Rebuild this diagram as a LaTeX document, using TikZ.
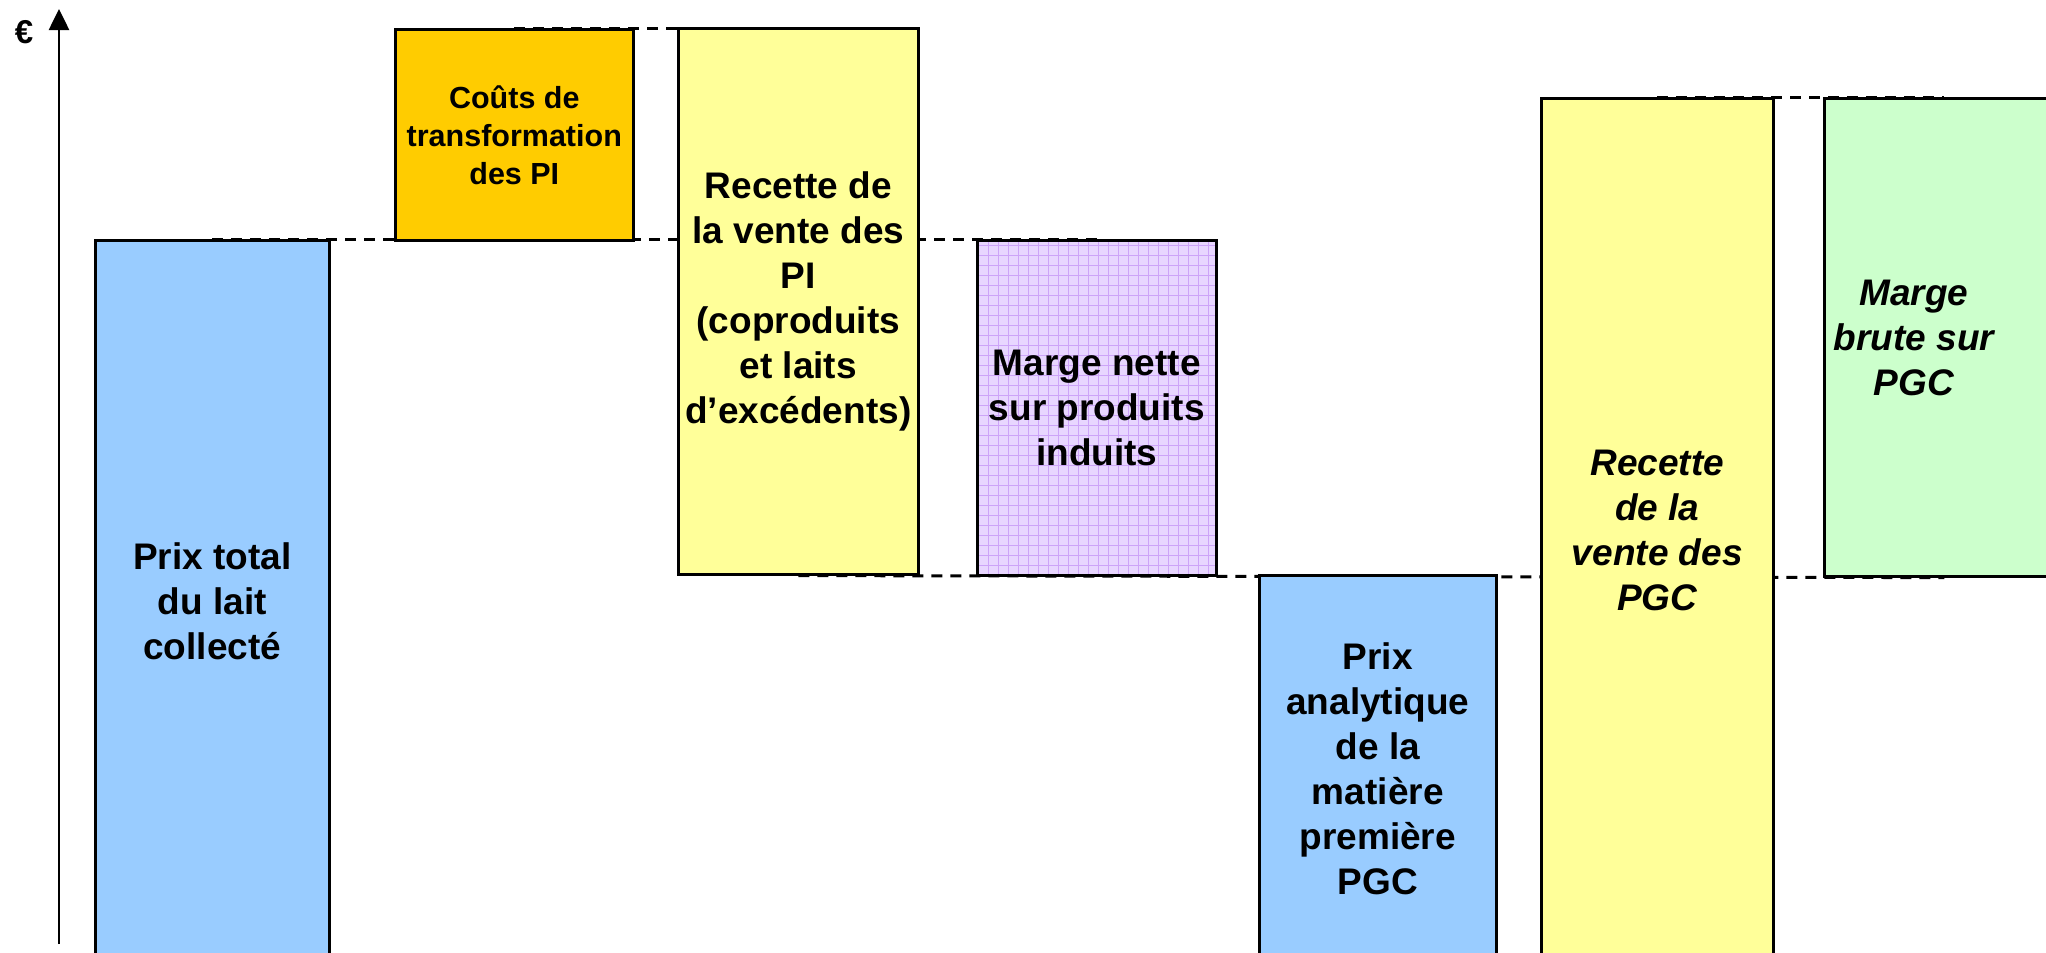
\documentclass[tikz,border=0pt]{standalone}
\usepackage{fontspec}
\setmainfont{Liberation Sans}
\usetikzlibrary{arrows.meta}
\definecolor{barblue}{HTML}{99CCFF}
\definecolor{barorange}{HTML}{FFCC00}
\definecolor{baryellow}{HTML}{FFFF99}
\definecolor{bargreen}{HTML}{CCFFCC}
\definecolor{barpurple}{HTML}{E8D6FF}
\definecolor{gridpurple}{HTML}{CDA4F8}
\pgfdeclarelayer{bg}
\pgfsetlayers{bg,main}
\begin{document}
\begin{tikzpicture}[x=1pt,y=-1pt,
  bar/.style={draw=black, line width=2.6pt, rectangle, inner sep=0pt, anchor=north west,
    align=center, font=\fontsize{37}{45}\selectfont\bfseries},
  itbar/.style={bar, font=\fontsize{37}{45}\selectfont\bfseries\itshape},
  smallbar/.style={bar, font=\fontsize{30.5}{38}\selectfont\bfseries},
  gridfill/.style={path picture={\draw[gridpurple, line width=0.8pt, step=10pt]
    (path picture bounding box.south west) grid (path picture bounding box.north east);}},
  level/.style={line width=3pt, dash pattern=on 11pt off 8pt},
  axisline/.style={line width=2.6pt, -{Triangle[width=20pt,length=21pt]}},
  eurolabel/.style={font=\fontsize{33}{36}\selectfont\bfseries, inner sep=0pt}]
\useasboundingbox (0,0) rectangle (2046,953);
\clip (0,0) rectangle (2046,953);

% axis
\coordinate (axb) at (59,944);
\coordinate (axt) at (59,9);
\draw[axisline] (axb) -- (axt);
\node[eurolabel] (eur) at (24,32) {€};

% bars
\node[bar, fill=barblue, minimum width=234pt, minimum height=722pt] (b1) at (94,239)
  {Prix total\\du lait\\collecté};
\node[smallbar, fill=barorange, minimum width=238pt, minimum height=211pt] (or) at (394,28)
  {Coûts de\\transformation\\des PI};
\node[bar, fill=baryellow, minimum width=240pt, minimum height=546pt] (y1) at (677,27)
  {Recette de\\la vente des\\PI\\(coproduits\\et laits\\d’excédents)};
\node[bar, fill=barpurple, gridfill, minimum width=239pt, minimum height=335pt] (pu) at (976,239)
  {Marge nette\\sur produits\\induits};
\node[bar, fill=barblue, minimum width=237pt, minimum height=387pt] (b2) at (1258,574)
  {Prix\\analytique\\de la\\matière\\première\\PGC};
\node[itbar, fill=baryellow, minimum width=232pt, minimum height=864pt] (y2) at (1540,97)
  {Recette\\de la\\vente des\\PGC};
\node[bar, fill=bargreen, minimum width=240pt, minimum height=478pt] (gr) at (1823,97) {};
\node[font=\fontsize{37}{45}\selectfont\bfseries\itshape, align=center, inner sep=0pt] (grt) at (1914,338)
  {Marge\\brute sur\\PGC};

% level lines
\begin{pgfonlayer}{bg}
\draw[level] (or.north) -- (or.north -| y1.west);
\draw[level] (b1.north) -- (pu.north);
\draw[level] (y1.south) -- (gr.south);
\draw[level] (y2.north) -- (gr.north);
\end{pgfonlayer}
\end{tikzpicture}
\end{document}
